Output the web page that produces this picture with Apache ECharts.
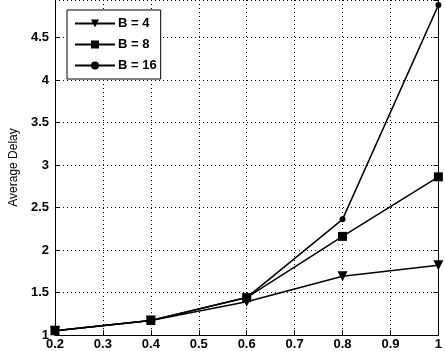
<!DOCTYPE html>
<html>
<head>
<meta charset="utf-8">
<script src="https://cdn.jsdelivr.net/npm/echarts@6/dist/echarts.min.js"></script>
<style>
  html, body { margin: 0; padding: 0; background: #fff; }
  #chart { width: 445px; height: 351px; }
</style>
</head>
<body>
<div id="chart"></div>
<script>
// data
const xValues = [0.2, 0.4, 0.6, 0.8, 1.0];
const delayB4 = [1.05, 1.17, 1.39, 1.69, 1.82];
const delayB8 = [1.05, 1.17, 1.44, 2.16, 2.86];
const delayB16 = [1.05, 1.17, 1.44, 2.36, 4.88];
const seriesNames = ['B = 4', 'B = 8', 'B = 16'];

const font = 'Liberation Sans, Arial, sans-serif';
const pair = (ys) => xValues.map((x, i) => [x, ys[i]]);

const dotted = { show: true, lineStyle: { color: '#000', type: [1, 3], width: 1 } };

const baseSeries = {
  type: 'line',
  color: '#000',
  lineStyle: { color: '#000', width: 1.5 },
  itemStyle: { color: '#000' },
  z: 5
};

const option = {
  backgroundColor: '#fff',
  animation: false,
  textStyle: { fontFamily: font },
  grid: { left: 42, right: 5, top: 0, bottom: 16 },
  legend: {
    orient: 'vertical',
    left: 67,
    top: 10,
    padding: [7, 4, 7, 7],
    itemGap: 8,
    itemWidth: 40,
    itemHeight: 10,
    borderColor: '#000',
    borderWidth: 1,
    borderRadius: 0,
    backgroundColor: '#fff',
    textStyle: { color: '#000', fontSize: 13, fontWeight: 'bold', fontFamily: font, padding: [0, 0, 0, -2] },
    data: seriesNames
  },
  xAxis: {
    type: 'value',
    min: 0.2,
    max: 1,
    interval: 0.1,
    axisLine: { show: true, onZero: false, lineStyle: { color: '#000', width: 1 } },
    axisTick: { show: true, inside: true, length: 5, lineStyle: { color: '#000' } },
    axisLabel: {
      color: '#000', fontSize: 13, fontWeight: 'bold', margin: 3,
      formatter: (v) => (Math.abs(v - 1) < 1e-9 ? '1' : v.toFixed(1))
    },
    splitLine: dotted
  },
  yAxis: [
    {
      type: 'value',
      min: 1,
      max: 4.94,
      interval: 0.5,
      name: 'Average Delay',
      nameLocation: 'middle',
      nameGap: 30,
      nameTextStyle: { color: '#000', fontSize: 12, fontFamily: font },
      axisLine: { show: true, lineStyle: { color: '#000', width: 1 } },
      axisTick: { show: true, inside: true, length: 5, lineStyle: { color: '#000' } },
      axisLabel: {
        color: '#000', fontSize: 13, fontWeight: 'bold', margin: 6,
        showMaxLabel: false,
        formatter: (v) => (Number.isInteger(v) ? String(v) : v.toFixed(1))
      },
      splitLine: dotted
    },
    {
      type: 'value',
      position: 'right',
      min: 1,
      max: 4.94,
      interval: 0.5,
      axisLine: { show: true, lineStyle: { color: '#000', width: 1 } },
      axisTick: { show: true, inside: true, length: 5, lineStyle: { color: '#000' } },
      axisLabel: { show: false },
      splitLine: { show: false }
    }
  ],
  series: [
    Object.assign({}, baseSeries, {
      name: seriesNames[0],
      data: pair(delayB4),
      symbol: 'triangle',
      symbolRotate: 180,
      symbolSize: 10
    }),
    Object.assign({}, baseSeries, {
      name: seriesNames[1],
      data: pair(delayB8),
      symbol: 'rect',
      symbolSize: 9
    }),
    Object.assign({}, baseSeries, {
      name: seriesNames[2],
      data: pair(delayB16),
      symbol: 'circle',
      symbolSize: 6
    })
  ]
};

const chart = echarts.init(document.getElementById('chart'));
chart.setOption(option);
</script>
</body>
</html>
